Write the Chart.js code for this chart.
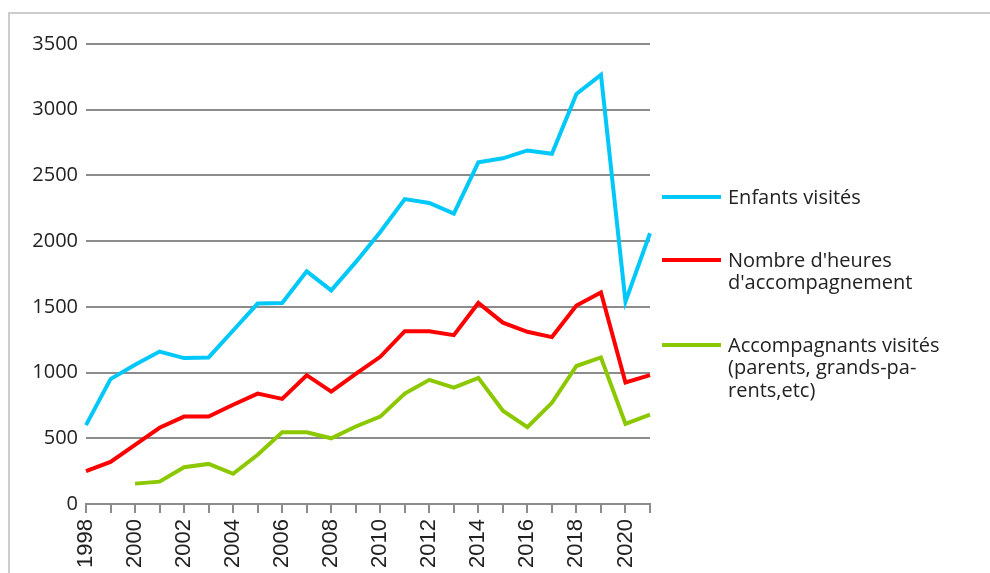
<!DOCTYPE html>
<html lang="fr">
<head>
<meta charset="utf-8">
<script src="https://cdn.jsdelivr.net/npm/chart.js@4"></script>
<style>
  html, body { margin: 0; padding: 0; background: #fff; }
  #wrap { position: relative; width: 990px; height: 573px; overflow: hidden; }
  #frame { position: absolute; left: 8px; top: 12px; width: 1000px; height: 600px;
           border-top: 2px solid #cdcdcd; border-left: 2px solid #cdcdcd; }
  #chart { position: absolute; left: 0; top: 0; }
  #legend { position: absolute; left: 662px; top: 186px; font-family: "Open Sans", sans-serif;
            font-size: 20px; color: #222; line-height: 22.5px; }
  .item { display: flex; align-items: flex-start; margin-bottom: 40px; }
  .swatch { width: 59px; height: 4px; margin-top: 9px; margin-right: 7px; flex: none; }
</style>
</head>
<body>
<div id="wrap">
  <div id="frame"></div>
  <canvas id="chart" width="990" height="573"></canvas>
  <div id="legend"></div>
</div>
<script>
// Données
const annees = ['1998','1999','2000','2001','2002','2003','2004','2005','2006','2007','2008','2009',
                '2010','2011','2012','2013','2014','2015','2016','2017','2018','2019','2020','2021'];
const enfantsVisites = [600, 950, 1060, 1160, 1110, 1115, 1320, 1525, 1530, 1770, 1625, 1840,
                        2070, 2320, 2290, 2210, 2600, 2630, 2690, 2665, 3120, 3265, 1540, 2060];
const heuresAccompagnement = [250, 320, 450, 580, 665, 665, 755, 840, 800, 980, 855, 990,
                              1120, 1315, 1315, 1285, 1530, 1380, 1310, 1270, 1510, 1610, 925, 980];
const accompagnantsVisites = [null, null, 155, 170, 280, 305, 230, 375, 545, 545, 500, 590,
                              665, 840, 945, 885, 960, 710, 585, 770, 1050, 1115, 610, 680];
const yTicks = [0, 500, 1000, 1500, 2000, 2500, 3000, 3500];

const series = [
  { label: ['Enfants visités'], data: enfantsVisites, color: '#00c8f8' },
  { label: ["Nombre d'heures", "d'accompagnement"], data: heuresAccompagnement, color: '#ff0000' },
  { label: ['Accompagnants visités', '(parents, grands-pa-', 'rents,etc)'], data: accompagnantsVisites, color: '#8cc800' }
];

new Chart(document.getElementById('chart'), {
  type: 'line',
  data: {
    labels: annees,
    datasets: series.map(s => ({
      label: s.label.join(' '),
      data: s.data,
      borderColor: s.color,
      backgroundColor: s.color,
      borderWidth: 4,
      pointRadius: 0,
      tension: 0,
      fill: false
    }))
  },
  options: {
    responsive: false,
    animation: false,
    layout: { padding: { left: 26, right: 340, top: 44, bottom: 0 } },
    plugins: {
      legend: { display: false },
      tooltip: { enabled: false }
    },
    scales: {
      x: {
        grid: { drawOnChartArea: false, drawTicks: true, tickLength: 9, color: '#8c8c8c', lineWidth: 2 },
        border: { display: true, color: '#8c8c8c', width: 2 },
        ticks: {
          autoSkip: false,
          minRotation: 90,
          maxRotation: 90,
          padding: 6,
          color: '#222',
          font: { family: 'Liberation Sans', size: 22 },
          callback: function(val, i) { return i % 2 === 0 ? this.getLabelForValue(val) : ''; }
        },
        afterFit: function(scale) { scale.height = 69; scale.paddingLeft = 0; scale.paddingRight = 0; }
      },
      y: {
        min: 0,
        max: 3500,
        afterBuildTicks: function(scale) { scale.ticks = yTicks.map(v => ({ value: v })); },
        grid: { drawTicks: false, color: '#8c8c8c', lineWidth: 2 },
        border: { display: false },
        ticks: {
          padding: 8,
          color: '#222',
          font: { family: 'Open Sans', size: 20 },
          callback: function(value) { return String(value); }
        },
        afterFit: function(scale) { scale.width = 60; scale.paddingTop = 0; scale.paddingBottom = 0; }
      }
    }
  }
});

// Légende à droite (texte sur plusieurs lignes)
const legend = document.getElementById('legend');
series.forEach(s => {
  const item = document.createElement('div');
  item.className = 'item';
  const sw = document.createElement('div');
  sw.className = 'swatch';
  sw.style.background = s.color;
  const txt = document.createElement('div');
  txt.innerHTML = s.label.join('<br>');
  item.appendChild(sw);
  item.appendChild(txt);
  legend.appendChild(item);
});
</script>
</body>
</html>
